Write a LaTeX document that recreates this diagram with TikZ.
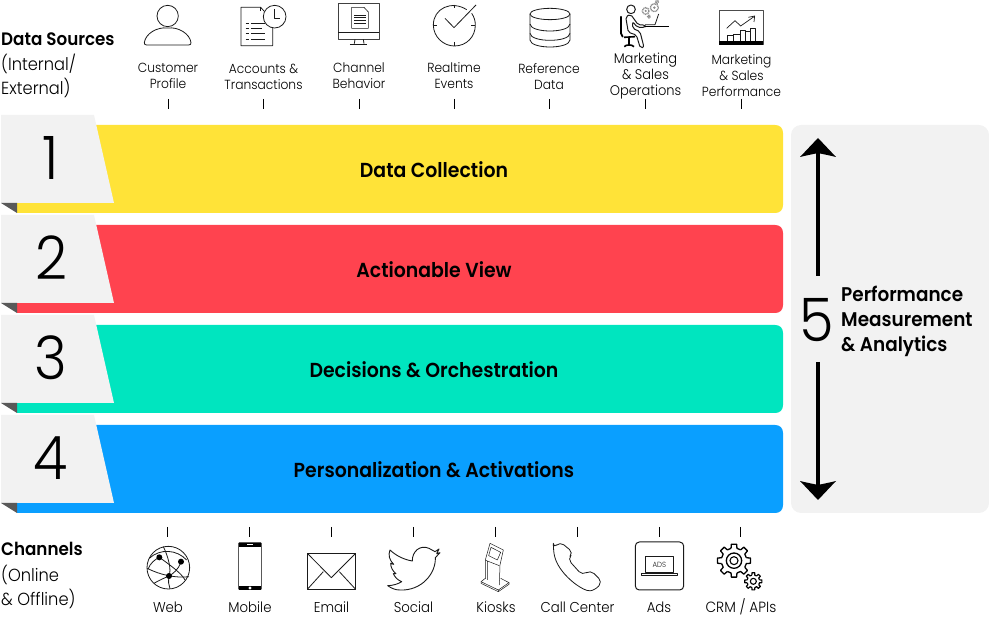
\documentclass[tikz,border=0pt]{standalone}
\usepackage{fontspec}
\setmainfont{Poppins Light}[BoldFont={Poppins SemiBold},FakeStretch=0.93]
\usetikzlibrary{calc}
\definecolor{bandyellow}{HTML}{FFE338}
\definecolor{bandred}{HTML}{FF434F}
\definecolor{bandteal}{HTML}{00E5BF}
\definecolor{bandblue}{HTML}{0A9FFF}
\definecolor{tabgray}{HTML}{F2F2F2}
\definecolor{folddark}{HTML}{595959}
\definecolor{ink}{HTML}{1A1A1A}
\tikzset{
  zoomed/.style={shift={(#1)},x=0.33333pt,y=-0.33333pt},
  icon/.style={draw=ink,line width=0.8pt,line join=round,fill=none},
  tick/.style={draw=black,line width=0.8pt},
  biglabel/.style={font=\fontsize{20.3}{22}\selectfont\bfseries,text=black,inner sep=0pt},
  headlabel/.style={font=\fontsize{18}{24}\selectfont\bfseries,text=black,inner sep=0pt,anchor=west},
  sublabel/.style={font=\fontsize{17.5}{24}\selectfont,text=black,inner sep=0pt,anchor=west},
  iconlabel/.style={font=\fontsize{13.2}{16}\selectfont,text=black,inner sep=0pt,align=center},
  iconlabelb/.style={font=\fontsize{14.3}{16}\selectfont,text=black,inner sep=0pt},
  digit/.style={font=\fontsize{60}{60}\selectfont,text=black,inner sep=0pt},
  bigarrow/.style={draw=black,line width=4pt},
  arrowhead/.style={fill=black,draw=none},
}
\newcommand{\bandrow}[5]{% top-offset, colour, digit, label, name
  \begin{scope}[shift={(0,#1)}]
    \fill[#2] (17,125) -- (775,125) .. controls (780,125) and (783,128) .. (783,133) -- (783,205) .. controls (783,210) and (780,213) .. (775,213) -- (17,213) -- cycle;
    \fill[tabgray] (1,115) -- (94,115) -- (114,203) -- (1,203) -- cycle;
    \fill[folddark] (1,203) -- (17,203) -- (17,213) -- cycle;
    \node[digit] (num#5) at (51,158) {#3};
    \node[biglabel] (lab#5) at (434,170) {#4};
  \end{scope}
}
\newcommand{\gearicon}[6]{% cx cy outer inner teeth lw
  \foreach \i in {1,...,#5}{
    \pgfmathsetmacro{\aa}{(\i-1)*360/#5}
    \pgfmathsetmacro{\st}{360/#5}
    \draw[icon,draw=black,line width=#6] ($(#1,#2)+(\aa-0.30*\st:#4)$) -- ($(#1,#2)+(\aa-0.20*\st:#3)$) -- ($(#1,#2)+(\aa+0.20*\st:#3)$) -- ($(#1,#2)+(\aa+0.30*\st:#4)$) -- ($(#1,#2)+(\aa+0.70*\st:#4)$);
  }
}
\begin{document}
\begin{tikzpicture}[x=1pt,y=-1pt]
\useasboundingbox (0,0) rectangle (989,617);
% bands
\bandrow{0}{bandyellow}{1}{Data Collection}{a}
\bandrow{100}{bandred}{2}{Actionable View}{b}
\bandrow{200}{bandteal}{3}{Decisions \& Orchestration}{c}
\bandrow{300}{bandblue}{4}{Personalization \& Activations}{d}
% right panel
\fill[tabgray,rounded corners=10pt] (791,125) rectangle (989,513);
\coordinate (upS) at (817.5,276);
\coordinate (upE) at (817.5,152);
\coordinate (dnS) at (817.5,362);
\coordinate (dnE) at (817.5,486);
\draw[bigarrow] (upS) -- (upE);
\draw[bigarrow] (dnS) -- (dnE);
\fill[arrowhead] (818,138) -- (836,157) .. controls (828,155) and (822,154) .. (818,153) .. controls (814,154) and (808,155) .. (800,157) -- cycle;
\fill[arrowhead] (818,500) -- (836,481) .. controls (828,483) and (822,484) .. (818,485) .. controls (814,484) and (808,483) .. (800,481) -- cycle;
\node[digit] (num5) at (817,320) {5};
\node[font=\fontsize{19.8}{25}\selectfont\bfseries,inner sep=0pt,anchor=west,align=left] (lab5) at (841,321.5) {Performance\\Measurement\\\& Analytics};
% left headings
\node[headlabel] (ds) at (1,39) {Data Sources};
\node[sublabel] (ds1) at (1,64) {(Internal/};
\node[sublabel] (ds2) at (1,88) {External)};
\node[headlabel] (ch) at (1,549) {Channels};
\node[sublabel] (ch1) at (1,575) {(Online};
\node[sublabel] (ch2) at (1,599) {\& Offline)};
% top labels
\node[iconlabel] (l1) at (168,76) {Customer\\Profile};
\node[iconlabel] (l2) at (263.5,77) {Accounts \&\\Transactions};
\node[iconlabel] (l3) at (359,76) {Channel\\Behavior};
\node[iconlabel] (l4) at (454,76) {Realtime\\Events};
\node[iconlabel] (l5) at (549,77) {Reference\\Data};
\node[iconlabel,font=\fontsize{14}{16}\selectfont] (l6) at (645.5,76) {Marketing\\\& Sales\\Operations};
\node[iconlabel] (l7) at (741.5,76) {Marketing\\\& Sales\\Performance};
% bottom labels
\node[iconlabelb] (m1) at (168,607.5) {Web};
\node[iconlabelb] (m2) at (250,607.5) {Mobile};
\node[iconlabelb] (m3) at (331.5,607.5) {Email};
\node[iconlabelb] (m4) at (413.5,607.5) {Social};
\node[iconlabelb] (m5) at (496,607.5) {Kiosks};
\node[iconlabelb] (m6) at (577.5,607.5) {Call Center};
\node[iconlabelb] (m7) at (659,607.5) {Ads};
\node[iconlabelb,font=\fontsize{14.8}{16}\selectfont] (m8) at (741,607) {CRM / APIs};
% ticks
\foreach \n/\x in {1/168.5,2/263.5,3/359.5,4/454.5,5/549.5,6/645.5,7/741.5}{
  \coordinate (ta\n) at (\x,99); \coordinate (tb\n) at (\x,109);
  \draw[tick] (ta\n) -- (tb\n);
}
\foreach \n/\x in {1/167.5,2/249.5,3/331.5,4/413.5,5/495.5,6/577.5,7/659.5,8/740.5}{
  \coordinate (ba\n) at (\x,527); \coordinate (bb\n) at (\x,537);
  \draw[tick] (ba\n) -- (bb\n);
}
% ---- top icons, left
\begin{scope}[zoomed={0,0}]
  \draw[icon] (503,48) circle (32);
  \draw[icon] (433,128) .. controls (436,102) and (470,80) .. (503,84) .. controls (536,80) and (570,102) .. (573,128) .. controls (573,133) and (571,135) .. (566,135) -- (440,135) .. controls (435,135) and (433,133) .. (433,128) -- cycle;
  % document + clock
  \draw[icon] (792,33) -- (782,22) -- (723,22) -- (723,137) -- (818,137) -- (818,84);
  \draw[icon] (782,22) -- (782,33);
  \draw[icon] (824,50) circle (34);
  \draw[icon] (824,28) -- (824,55) -- (840,55);
  \foreach \y/\w in {70/795,85/785,100/795,118/795}{
    \draw[icon,line width=0.5pt] (737,\y) -- (746,\y);
    \draw[icon,line width=0.5pt] (753,\y) -- (\w,\y);
  }
  % monitor
  \draw[icon,draw=black!75,line width=1pt] (1015,10) rectangle (1138,118);
  \draw[icon] (1015,97) -- (1138,97);
  \draw[icon] (1065,118) -- (1063,131) (1090,118) -- (1092,131);
  \draw[icon] (1050,134) -- (1100,134);
  \draw[icon,line width=0.6pt] (1055,22) -- (1092,22) -- (1105,36) -- (1105,85) -- (1055,85) -- cycle;
  \foreach \y in {45,53,61,69}{\draw[icon,line width=0.5pt] (1063,\y) -- (1097,\y);}
\end{scope}
% ---- top icons, right
\begin{scope}[zoomed={400,0}]
  % realtime clock
  \draw[icon] (200,29) .. controls (155,0) and (100,25) .. (100,75) .. controls (100,110) and (130,138) .. (163,138) .. controls (200,138) and (226,110) .. (226,75) .. controls (226,62) and (222,50) .. (215,40);
  \draw[icon] (135,55) -- (162,83) -- (228,15);
  \draw[icon] (163,14) -- (163,24) (163,126) -- (163,138) (100,75) -- (112,75) (214,75) -- (226,75);
  % database
  \draw[icon] (450,42) ellipse (60 and 17);
  \draw[icon] (390,42) -- (390,120) .. controls (392,148) and (508,148) .. (510,120) -- (510,42);
  \draw[icon] (390,72) .. controls (392,100) and (508,100) .. (510,72);
  \draw[icon] (390,100) .. controls (392,128) and (508,128) .. (510,100);
  % performance
  \draw[icon,draw=black!70,line width=1pt] (958,32) rectangle (1090,135);
  \fill[black] (958,122) rectangle (1090,136);
  \draw[icon,line width=0.6pt] (982,122) -- (982,106) -- (1000,106) -- (1000,122);
  \draw[icon,line width=0.6pt] (1000,122) -- (1000,102) -- (1020,102) -- (1020,122);
  \draw[icon,line width=0.6pt] (1020,122) -- (1020,90) -- (1035,90) -- (1035,122);
  \draw[icon,line width=0.6pt] (1035,122) -- (1035,95) -- (1052,95) -- (1052,122);
  \draw[icon,line width=0.6pt] (1052,122) -- (1052,84) -- (1067,84) -- (1067,122);
  \draw[icon,line width=0.7pt] (980,85) -- (1005,62) -- (1022,78) -- (1062,50);
  \draw[icon,line width=0.7pt] (1045,52) -- (1064,48) -- (1062,66);
\end{scope}
% ---- marketing operations person
\begin{scope}[zoomed={610,0}]
  \draw[icon,line width=1pt] (63,28) circle (13);
  \draw[black,line width=1.8pt,line cap=round] (33,50) -- (33,100) -- (38,110);
  \draw[black,line width=1.6pt] (42,112) -- (75,110);
  \draw[black,line width=1.6pt] (57,113) -- (57,135);
  \draw[black,line width=1.6pt] (43,140) .. controls (48,133) and (66,133) .. (72,140);
  \draw[icon,line width=1pt,rounded corners=2pt] (62,43) -- (85,75) -- (105,75) -- (105,82) -- (82,82) -- (68,65) -- (68,85) -- (90,95) -- (102,142) -- (91,144) -- (79,105) -- (55,97) -- (47,50) -- cycle;
  \draw[black,line width=1.3pt] (105,79) -- (178,79);
  \draw[icon,line width=0.8pt] (105,74) -- (135,74) -- (146,42);
  \foreach \c/\r in {{107,33}/10,{133,23}/12,{141,5}/5,{117,50}/4}{
    \draw[black!45,line width=1.4pt,dash pattern=on 1pt off 0.6pt] (\c) circle (\r);
    \fill[black!45] (\c) circle (\r*0.35);
  }
\end{scope}
% ---- bottom icons
\begin{scope}[zoomed={140,540}]
  \draw[icon] (85,83) circle (64);
  \draw[icon] (28,55) .. controls (60,25) and (110,28) .. (140,60);
  \draw[icon] (24,88) .. controls (30,70) and (45,58) .. (58,52);
  \draw[icon] (22,85) .. controls (60,105) and (110,115) .. (147,110);
  \draw[icon] (58,52) .. controls (90,75) and (125,100) .. (135,120);
  \draw[icon] (123,65) .. controls (115,90) and (100,100) .. (87,108);
  \draw[icon] (87,108) .. controls (70,115) and (50,125) .. (42,130);
  \draw[icon] (70,20) .. controls (85,50) and (95,90) .. (87,108);
  \draw[icon] (87,108) .. controls (85,125) and (85,135) .. (90,146);
  \fill[black] (58,52) circle (9) (123,65) circle (9) (87,108) circle (9);
\end{scope}
\begin{scope}[zoomed={0,510}]
  % mobile
  \fill[black,rounded corners=1pt] (715,97) rectangle (785,240);
  \fill[white] (718,110) rectangle (782,228);
  \fill[white] (740,102) rectangle (760,105);
  \fill[white] (750,234) circle (5);
  % email
  \draw[icon,line width=1pt] (922,130) rectangle (1067,238);
  \draw[icon] (922,130) -- (994,203) -- (1067,130);
  \draw[icon] (922,238) -- (970,185);
  \draw[icon] (1067,238) -- (1018,185);
\end{scope}
\begin{scope}[zoomed={380,535}]
  % twitter
  \draw[icon,line width=0.9pt] (30,45) .. controls (48,62) and (72,74) .. (97,78)
    .. controls (96,50) and (120,28) .. (147,40)
    -- (165,50) -- (177,42) -- (170,56) -- (180,53) -- (166,68)
    .. controls (168,115) and (125,168) .. (60,165)
    .. controls (45,165) and (35,160) .. (23,152)
    .. controls (37,152) and (55,147) .. (65,140)
    .. controls (55,136) and (45,128) .. (40,116) -- (48,116)
    .. controls (38,108) and (32,97) .. (32,85) -- (41,88)
    .. controls (28,75) and (24,60) .. (30,45) -- cycle;
  % kiosk
  \draw[icon,line width=0.5pt] (303,140) -- (355,165) -- (387,143) -- (362,130);
  \draw[icon,line width=0.5pt] (303,140) -- (316,130) (303,145) -- (355,170) -- (387,148) -- (387,143) (303,140) -- (303,145) (355,165) -- (355,170);
  \draw[icon,line width=0.5pt] (316,132) -- (316,75) -- (330,25) -- (370,45) -- (360,90) -- (358,150);
  \draw[icon,line width=0.5pt] (322,135) -- (322,78) -- (358,92);
  \draw[icon,line width=0.5pt] (316,75) -- (322,78);
  \draw[icon,line width=0.5pt] (333,37) -- (362,52) -- (352,75) -- (326,62) -- cycle;
\end{scope}
\begin{scope}[zoomed={400,510}]
  % phone
  \draw[icon,rounded corners=5pt,line width=0.8pt] (460,115) -- (480,95) -- (520,128) -- (503,147) -- (547,196) -- (571,180) -- (607,215) -- (586,240)
    .. controls (550,246) and (470,190) .. cycle;
  % ads
  \draw[icon,rounded corners=4pt,line width=1pt] (706,96) rectangle (851,240);
  \draw[icon,line width=0.7pt] (736,140) rectangle (820,188);
  \draw[icon,line width=0.7pt] (725,190) rectangle (831,196);
  \node[font=\fontsize{7.5}{8}\selectfont,text=ink,inner sep=0pt] (adst) at (778,165) {ADS};
\end{scope}
\begin{scope}[zoomed={710,538}]
  \gearicon{72}{68}{50}{38}{8}{1.3pt}
  \draw[icon,draw=black,line width=1.3pt] (72,68) circle (23);
  \draw[icon,draw=black,line width=1.1pt] (72,68) circle (12);
  \gearicon{130}{130}{26}{19}{8}{1.2pt}
  \draw[icon,draw=black,line width=1.1pt] (130,130) circle (9);
\end{scope}
\end{tikzpicture}
\end{document}
